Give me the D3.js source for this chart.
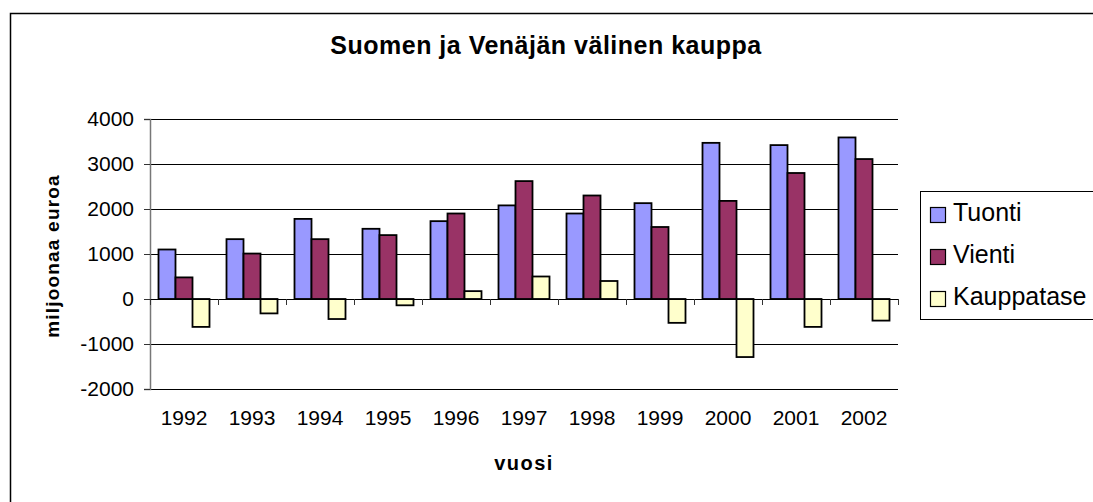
<!DOCTYPE html>
<html>
<head>
<meta charset="utf-8">
<script src="https://cdn.jsdelivr.net/npm/d3@7"></script>
<style>
  body { margin: 0; background: #fff; }
  svg { display: block; font-family: "Liberation Sans", Arial, sans-serif; }
</style>
</head>
<body>
<svg width="1093" height="502"></svg>
<script>
// data (milj. euroa)
const years = ["1992", "1993", "1994", "1995", "1996", "1997", "1998", "1999", "2000", "2001", "2002"];
const tuonti = [1100, 1330, 1780, 1560, 1730, 2080, 1900, 2130, 3470, 3420, 3590];
const vienti = [480, 1010, 1330, 1420, 1900, 2620, 2300, 1600, 2180, 2800, 3110];
const kauppatase = [-620, -320, -445, -140, 175, 500, 400, -530, -1290, -620, -480];
const seriesNames = ["Tuonti", "Vienti", "Kauppatase"];
const seriesColors = ["#9999FF", "#993366", "#FFFFCC"];
const yTicks = [-2000, -1000, 0, 1000, 2000, 3000, 4000];

const svg = d3.select("svg");

// outer chart border
svg.append("rect")
    .attr("x", 10.5).attr("y", 13.5)
    .attr("width", 1200).attr("height", 600)
    .attr("fill", "#fff").attr("stroke", "#000").attr("stroke-width", 1.5);

// title
svg.append("text")
    .attr("x", 546).attr("y", 54)
    .attr("text-anchor", "middle")
    .style("font-size", "25px").style("font-weight", "bold")
    .style("letter-spacing", "0.5px")
    .text("Suomen ja Venäjän välinen kauppa");

// d3 axes add their own half pixel, so keep the group on whole pixels
const margin = {top: 119, left: 150};
const width = 748, height = 270;
const g = svg.append("g").attr("transform", `translate(${margin.left},${margin.top})`);

const x = d3.scaleBand().domain(years).range([0, width]).paddingInner(0.25).paddingOuter(0.125);
const xs = d3.scaleBand().domain(seriesNames).range([0, x.bandwidth()]);
const y = d3.scaleLinear().domain([-2000, 4000]).range([height, 0]);

// gridlines
g.append("g")
    .call(d3.axisLeft(y).tickValues(yTicks).tickSize(-width).tickFormat(""))
    .call(s => s.select(".domain").remove())
    .call(s => s.selectAll("line").attr("stroke", "#000"));

// bars
const rows = years.map((yr, i) => ({year: yr, values: [tuonti[i], vienti[i], kauppatase[i]]}));
const groups = g.selectAll(".grp").data(rows).enter().append("g")
    .attr("transform", d => `translate(${x(d.year)},0)`);
groups.selectAll("rect")
    .data(d => d.values.map((v, j) => ({name: seriesNames[j], v: v, c: seriesColors[j]})))
    .enter().append("rect")
    .attr("x", d => xs(d.name))
    .attr("width", xs.bandwidth())
    .attr("y", d => y(Math.max(0, d.v)))
    .attr("height", d => Math.abs(y(d.v) - y(0)))
    .attr("fill", d => d.c)
    .attr("stroke", "#000").attr("stroke-width", 1.8);

// y axis
g.append("g")
    .call(d3.axisLeft(y).tickValues(yTicks).tickSize(6).tickPadding(10).tickFormat(d => String(d)))
    .call(s => s.select(".domain").attr("stroke", "#777").attr("stroke-width", 1.5))
    .call(s => s.selectAll("line").attr("stroke", "#333"))
    .call(s => s.selectAll("text").style("font-size", "21px").attr("fill", "#000"));

// zero line and category ticks
g.append("line")
    .attr("x1", 0).attr("x2", width)
    .attr("y1", y(0) + 0.5).attr("y2", y(0) + 0.5)
    .attr("stroke", "#000");
const bounds = years.map(yr => x(yr) - (x.step() - x.bandwidth()) / 2).concat([width]);
g.selectAll(".ctick").data(bounds).enter().append("line")
    .attr("x1", d => d + 0.5).attr("x2", d => d + 0.5)
    .attr("y1", y(0)).attr("y2", y(0) + 6)
    .attr("stroke", "#333");

// year labels
g.append("g")
    .attr("transform", `translate(0,${height})`)
    .call(d3.axisBottom(x).tickSize(0).tickPadding(21))
    .call(s => s.select(".domain").remove())
    .call(s => s.selectAll("text").style("font-size", "21px").attr("fill", "#000"));

// axis titles
svg.append("text")
    .attr("x", 524).attr("y", 470)
    .attr("text-anchor", "middle")
    .style("font-size", "20px").style("font-weight", "bold").style("letter-spacing", "1.5px")
    .text("vuosi");
svg.append("text")
    .attr("transform", "translate(59,256) rotate(-90)")
    .attr("text-anchor", "middle")
    .style("font-size", "19px").style("font-weight", "bold").style("letter-spacing", "1.2px")
    .text("miljoonaa euroa");

// legend
const leg = svg.append("g");
leg.append("rect")
    .attr("x", 920.5).attr("y", 191.5)
    .attr("width", 250).attr("height", 128)
    .attr("fill", "#fff").attr("stroke", "#000");
const items = leg.selectAll(".item").data(seriesNames).enter().append("g")
    .attr("transform", (d, i) => `translate(930,${221 + i * 42})`);
items.append("rect")
    .attr("x", 0.5).attr("y", -13.5)
    .attr("width", 15).attr("height", 15)
    .attr("fill", (d, i) => seriesColors[i])
    .attr("stroke", "#000").attr("stroke-width", 1.2);
items.append("text")
    .attr("x", 23).attr("y", 0)
    .style("font-size", "25px")
    .text(d => d);
</script>
</body>
</html>
